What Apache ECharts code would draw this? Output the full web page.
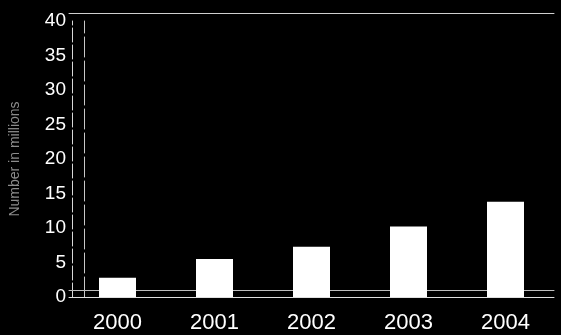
<!DOCTYPE html>
<html>
<head>
<meta charset="utf-8">
<script src="https://cdn.jsdelivr.net/npm/echarts@6/dist/echarts.min.js"></script>
<style>
  html, body { margin: 0; padding: 0; background: #000; }
  #chart { width: 561px; height: 335px; }
</style>
</head>
<body>
<div id="chart"></div>
<script>
// Yearly totals, in millions
const years = ['2000', '2001', '2002', '2003', '2004'];
const values = [2.8, 5.5, 7.3, 10.2, 13.8];
const yTicks = [0, 5, 10, 15, 20, 25, 30, 35, 40];

const chart = echarts.init(document.getElementById('chart'), null, { renderer: 'canvas' });

chart.setOption({
  backgroundColor: '#000',
  animation: false,
  grid: { left: 65, right: 7, top: 21, bottom: 38, containLabel: false },
  xAxis: [
    {
      type: 'category',
      data: years,
      position: 'bottom',
      axisLine: { show: true, lineStyle: { color: '#e0e0e0', width: 1 } },
      axisTick: { show: false },
      axisLabel: {
        color: '#fff', fontSize: 22, margin: 15,
        fontFamily: 'Liberation Sans, Arial, sans-serif'
      }
    },
    {
      // back edge of the floor
      type: 'category',
      data: years,
      position: 'bottom',
      offset: -7,
      axisLine: { show: true, lineStyle: { color: '#bdbdbd', width: 1 } },
      axisTick: { show: false },
      axisLabel: { show: false }
    },
    {
      // top edge of the back wall
      type: 'category',
      data: years,
      position: 'top',
      offset: 8,
      axisLine: { show: true, lineStyle: { color: '#cfcfcf', width: 1 } },
      axisTick: { show: false },
      axisLabel: { show: false }
    }
  ],
  yAxis: [
    {
      type: 'value',
      min: yTicks[0],
      max: yTicks[yTicks.length - 1],
      interval: 5,
      offset: -3,
      name: 'Number in millions',
      nameLocation: 'middle',
      nameGap: 50,
      nameTextStyle: {
        color: '#8c8c8c', fontSize: 14,
        fontFamily: 'Liberation Sans, Arial, sans-serif'
      },
      axisLine: { show: true, lineStyle: { color: '#d8d8d8', width: 1, type: [14, 3] } },
      axisTick: { show: false },
      splitLine: { show: false },
      axisLabel: {
        color: '#fff', fontSize: 19, margin: 6,
        fontFamily: 'Liberation Sans, Arial, sans-serif'
      }
    },
    {
      // rear vertical edge of the box
      type: 'value',
      min: yTicks[0],
      max: yTicks[yTicks.length - 1],
      interval: 5,
      position: 'left',
      offset: -15,
      axisLine: { show: true, lineStyle: { color: '#c8c8c8', width: 1, type: [20, 4] } },
      axisTick: { show: false },
      axisLabel: { show: false },
      splitLine: { show: false }
    }
  ],
  series: [
    {
      type: 'bar',
      data: values,
      barWidth: 37,
      z: 5,
      itemStyle: { color: '#ffffff' }
    }
  ]
});
</script>
</body>
</html>
